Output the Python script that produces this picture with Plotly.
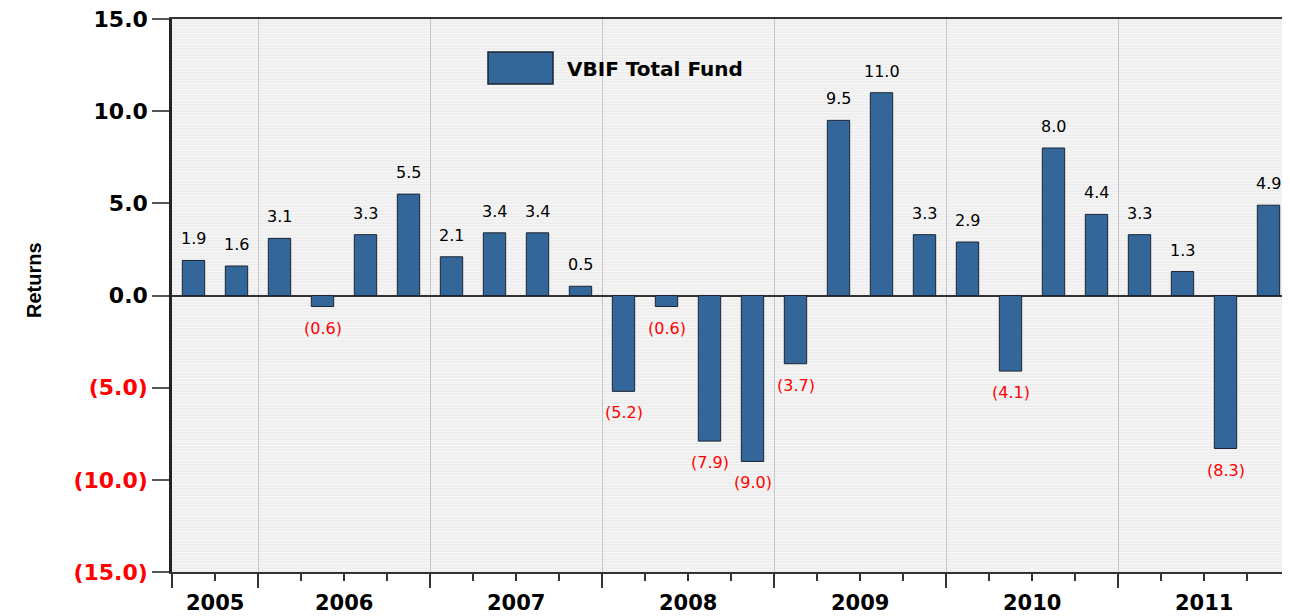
"""Quarterly returns bar chart for the VBIF Total Fund."""

import plotly.graph_objects as go

# Quarterly returns, 2005 Q3 to 2011 Q4
quarters = [
    "2005Q3", "2005Q4",
    "2006Q1", "2006Q2", "2006Q3", "2006Q4",
    "2007Q1", "2007Q2", "2007Q3", "2007Q4",
    "2008Q1", "2008Q2", "2008Q3", "2008Q4",
    "2009Q1", "2009Q2", "2009Q3", "2009Q4",
    "2010Q1", "2010Q2", "2010Q3", "2010Q4",
    "2011Q1", "2011Q2", "2011Q3", "2011Q4",
]
returns = [
    1.9, 1.6,
    3.1, -0.6, 3.3, 5.5,
    2.1, 3.4, 3.4, 0.5,
    -5.2, -0.6, -7.9, -9.0,
    -3.7, 9.5, 11.0, 3.3,
    2.9, -4.1, 8.0, 4.4,
    3.3, 1.3, -8.3, 4.9,
]
years = ["2005", "2006", "2007", "2008", "2009", "2010", "2011"]
y_ticks = [15, 10, 5, 0, -5, -10, -15]

BAR_COLOR = "#336699"
RED = "#ff0000"
FONT = "DejaVu Sans"

# page body has an 8px margin, so the figure is sized to fit what is left
W, H = 1282, 608
ML, MT, MB = 164, 11, 44
PW, PH = W - ML, H - MT - MB

xs = list(range(len(quarters)))


def fmt(v):
    return f"({abs(v):.1f})" if v < 0 else f"{v:.1f}"


def px(x):
    return (x - ML) / PW


def py(y):
    return (H - MB - y) / PH


# year groups: first/last index of each year
groups = {}
for i, q in enumerate(quarters):
    groups.setdefault(q[:4], []).append(i)
year_bounds = [groups[y][0] - 0.5 for y in years]
year_centers = [(groups[y][0] + groups[y][-1]) / 2 for y in years]

fig = go.Figure()

fig.add_trace(go.Bar(
    x=xs,
    y=returns,
    width=0.52,
    marker=dict(color=BAR_COLOR, line=dict(color="#1c2433", width=1)),
    name="VBIF Total Fund",
    showlegend=False,
    hovertext=quarters,
))

# value labels
for x, v in zip(xs, returns):
    fig.add_annotation(
        x=x, y=v, xref="x", yref="y",
        text=fmt(v),
        showarrow=False,
        yanchor="bottom" if v >= 0 else "top",
        yshift=10 if v >= 0 else -10,
        font=dict(family=FONT, size=16, color="black" if v >= 0 else RED),
    )

# year labels under the axis
for c, y in zip(year_centers, years):
    fig.add_annotation(
        x=c, y=py(595), xref="x", yref="paper",
        text=f"<b>{y}</b>",
        showarrow=False,
        yanchor="middle",
        font=dict(family=FONT, size=21, color="black"),
    )

# axis title
fig.add_annotation(
    x=px(13), y=py(272), xref="paper", yref="paper",
    text="<b>Returns</b>",
    textangle=-90,
    showarrow=False,
    font=dict(family="Liberation Sans Narrow, Liberation Sans", size=20, color="black"),
)

# legend drawn by hand so the swatch is large
fig.add_shape(
    type="rect", xref="paper", yref="paper",
    x0=px(480), x1=px(545), y0=py(76), y1=py(44),
    fillcolor=BAR_COLOR, line=dict(color="#1c2433", width=1.5),
)
fig.add_annotation(
    x=px(557), y=py(61), xref="paper", yref="paper",
    text="<b>VBIF Total Fund</b>",
    showarrow=False, xanchor="left", yanchor="middle",
    font=dict(family=FONT, size=20, color="black"),
)

tick_text = [
    f"<b>{t:.1f}</b>" if t >= 0 else f'<b><span style="color:{RED}">({abs(t):.1f})</span></b>'
    for t in y_ticks
]

fig.update_layout(
    width=W,
    height=H,
    margin=dict(l=ML, r=0, t=MT, b=MB),
    paper_bgcolor="white",
    plot_bgcolor="#eeeeee",
    font=dict(family=FONT, color="black"),
    xaxis=dict(
        range=[-0.5, len(quarters) - 0.5],
        tickvals=year_bounds,
        showticklabels=False,
        ticks="outside",
        ticklen=14,
        tickcolor="#333333",
        tickwidth=1.5,
        showgrid=True,
        gridcolor="#c6c6c6",
        gridwidth=1,
        minor=dict(dtick=1, tick0=-0.5, ticks="outside", ticklen=7,
                   tickcolor="#333333", tickwidth=1.5, showgrid=False),
        showline=True,
        linecolor="#333333",
        linewidth=1.5,
        mirror=True,
        zeroline=False,
    ),
    yaxis=dict(
        range=[-15, 15],
        tickvals=y_ticks,
        ticktext=tick_text,
        tickfont=dict(family=FONT, size=22, color="black"),
        ticklabeloverflow="allow",
        ticks="outside",
        ticklen=17,
        tickcolor="#555555",
        tickwidth=1.5,
        showgrid=False,
        minor=dict(dtick=0.16, showgrid=True, gridcolor="#f6f6f6", gridwidth=1, ticks=""),
        showline=True,
        linecolor="#222222",
        linewidth=2.5,
        zeroline=True,
        zerolinecolor="#333333",
        zerolinewidth=1.5,
    ),
)

fig.write_html("out.html")
